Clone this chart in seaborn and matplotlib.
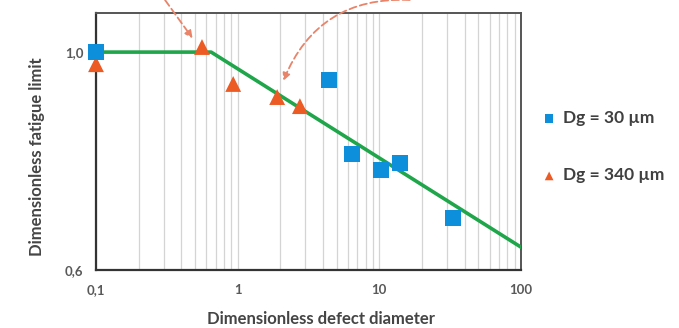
import matplotlib
matplotlib.use("Agg")
import matplotlib.pyplot as plt
import seaborn as sns
import pandas as pd
from matplotlib.ticker import FixedLocator, FixedFormatter, NullFormatter, LogLocator

# Data
dg30_x = [0.1, 4.4, 6.4, 10.3, 14.0, 33.0]
dg30_y = [1.0, 0.937, 0.787, 0.759, 0.771, 0.678]
dg340_x = [0.1, 0.56, 0.93, 1.9, 2.75]
dg340_y = [0.972, 1.012, 0.928, 0.90, 0.881]
model_x = [0.1, 0.65, 100.0]
model_y = [1.0, 1.0, 0.633]
labels = ["Dg = 30 \u00b5m", "Dg = 340 \u00b5m"]
ytick_vals = [0.6, 1.0]
ytick_labels = ["0,6", "1,0"]
xtick_vals = [0.1, 1, 10, 100]
xtick_labels = ["0,1", "1", "10", "100"]

sns.set_style("white")
plt.rcParams['font.family'] = ['Lato', 'DejaVu Sans']

fig = plt.figure(figsize=(6.79, 3.28), dpi=100)
ax = fig.add_axes([96/679, 1-270/328, (521-96)/679, (270-13)/328])

ax.set_xscale('log')
ax.set_yscale('log')

d30 = pd.DataFrame({'x': dg30_x, 'y': dg30_y})
d340 = pd.DataFrame({'x': dg340_x, 'y': dg340_y})
dm = pd.DataFrame({'x': model_x, 'y': model_y})

sns.lineplot(data=dm, x='x', y='y', ax=ax, color='#1fa64a', linewidth=2.6, zorder=3)
sns.scatterplot(data=d340, x='x', y='y', ax=ax, marker='^', color='#ec5b24', s=130,
                edgecolor='none', zorder=4, label=labels[1], clip_on=False)
sns.scatterplot(data=d30, x='x', y='y', ax=ax, marker='s', color='#0e8fdc', s=130,
                edgecolor='none', zorder=5, label=labels[0], clip_on=False)

ax.set_xlim(0.1, 100)
ax.set_ylim(0.6, 1.096)

ax.xaxis.set_major_locator(FixedLocator(xtick_vals))
ax.xaxis.set_major_formatter(FixedFormatter(xtick_labels))
ax.xaxis.set_minor_locator(LogLocator(base=10, subs=range(2, 10)))
ax.xaxis.set_minor_formatter(NullFormatter())
ax.grid(True, which='both', axis='x', color='#d4d4d4', linewidth=0.9)
ax.grid(False, axis='y')

ax.yaxis.set_major_locator(FixedLocator(ytick_vals))
ax.yaxis.set_major_formatter(FixedFormatter(ytick_labels))
ax.yaxis.set_minor_locator(FixedLocator([]))

ax.tick_params(axis='x', which='major', labelsize=9.5, colors='#595959', length=0, pad=10)
ax.tick_params(axis='y', which='major', labelsize=9.5, colors='#595959', length=5,
               color='#888888', direction='out', pad=4)
for lab in ax.get_xticklabels() + ax.get_yticklabels():
    lab.set_fontweight('bold')

for side in ['left', 'bottom']:
    ax.spines[side].set_color('#333333')
    ax.spines[side].set_linewidth(1.6)
for side in ['top', 'right']:
    ax.spines[side].set_color('#555555')
    ax.spines[side].set_linewidth(1.4)

ax.set_xlabel("Dimensionless defect diameter", fontsize=12, color='#454545', fontweight='bold')
ax.set_ylabel("Dimensionless fatigue limit", fontsize=12, color='#454545', fontweight='bold')
ax.xaxis.set_label_coords(0.53, -0.16)
ax.yaxis.set_label_coords(-0.12, 0.44)

# annotation arrows (dashed, salmon)
ax.annotate("", xy=(0.48, 1.033), xytext=(0.307, 1.13), annotation_clip=False,
            arrowprops=dict(arrowstyle='-|>', color='#e8846a', lw=1.3, ls=(0, (4, 2)),
                            mutation_scale=11, shrinkA=0, shrinkB=0))
ax.annotate("", xy=(2.1, 0.935), xytext=(16.4, 1.13), annotation_clip=False,
            arrowprops=dict(arrowstyle='-|>', color='#e8846a', lw=1.3, ls=(0, (4, 2)),
                            mutation_scale=11, shrinkA=0, shrinkB=0,
                            connectionstyle="arc3,rad=0.35"))

h, l = ax.get_legend_handles_labels()
order = [l.index(labels[0]), l.index(labels[1])]
leg = ax.legend([h[i] for i in order], [l[i] for i in order],
                loc='center left', bbox_to_anchor=(1.009, 0.48), frameon=False,
                fontsize=12.5, labelspacing=2.4, handletextpad=0.3, markerscale=0.55,
                handlelength=1.0)
for t in leg.get_texts():
    t.set_color('#404040')
    t.set_fontweight('bold')

fig.savefig("out.png", dpi=100)
